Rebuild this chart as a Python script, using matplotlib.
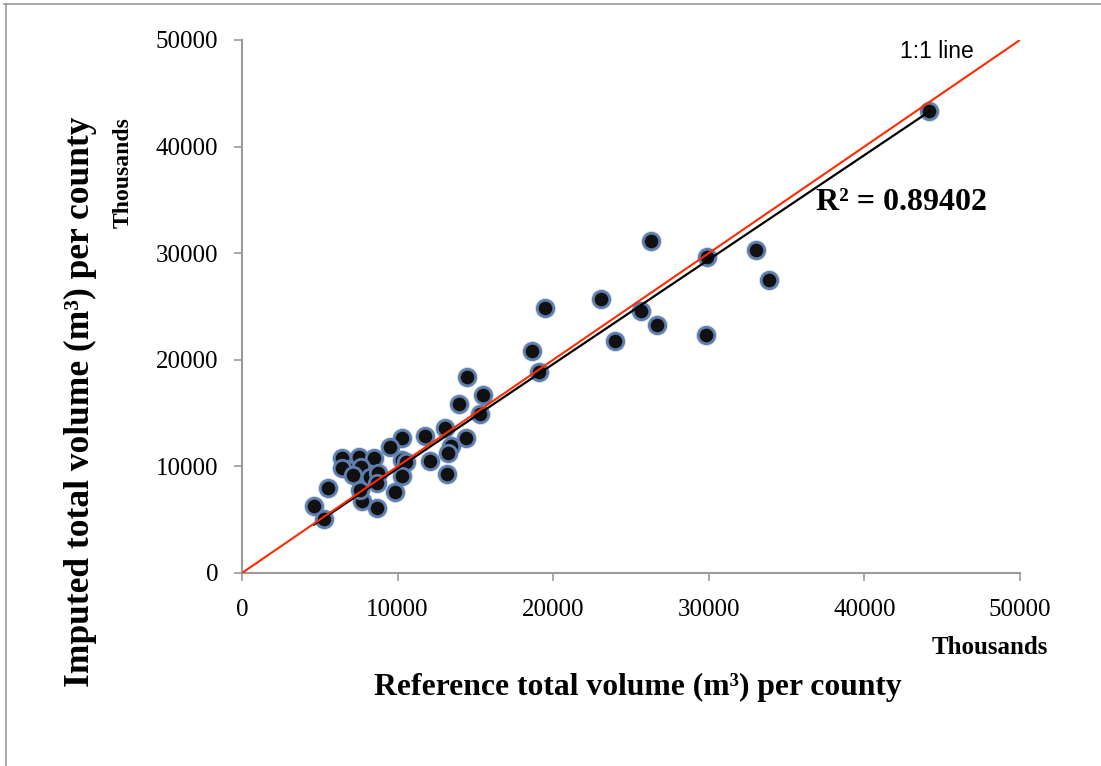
import numpy as np
import matplotlib
matplotlib.use("Agg")
import matplotlib.pyplot as plt
from matplotlib.lines import Line2D

# reference vs imputed volume per county (thousands m3)
reference = [44150, 26290, 29890, 33030, 33870, 29820, 23070, 19470, 25640, 26670,
             23970, 18640, 19090, 14460, 15490, 13950, 15300, 13050, 11760, 14400,
             13430, 13240, 13180, 12080, 10280, 9510, 10280, 10540, 10280, 9830,
             8680, 7710, 7580, 5530, 4630, 5270, 6430, 7520, 8480, 6750,
             6430, 7650, 7130, 8230, 8740, 8680]
imputed = [43340, 31150, 29640, 30300, 27490, 22330, 25700, 24860, 24580, 23270,
           21760, 20830, 18860, 18390, 16700, 15850, 14920, 13600, 12850, 12660,
           11910, 11260, 9290, 10510, 12660, 11820, 10600, 10410, 9100, 7600,
           6100, 6750, 7790, 7970, 6290, 5070, 10790, 10880, 10790, 9760,
           9850, 9940, 9190, 9010, 9380, 8440]
r2_text = "R² = 0.89402"

x = np.array(reference)
y = np.array(imputed)

fig = plt.figure(figsize=(11.01, 7.66), dpi=100)
ax = fig.add_axes([0.2198, 0.2520, 0.7066, 0.6958])

# points: light blue halo + black core
ax.scatter(x, y, s=230, color="#b7cbe6", alpha=0.55, linewidths=0, zorder=2)
ax.scatter(x, y, s=140, facecolor="#111111", edgecolor="#5f7fae", linewidths=2.0, zorder=3)

# linear trendline, intercept set to 0 (as excel)
slope = np.sum(x * y) / np.sum(x * x)
xf = np.array([x.min(), x.max()])
ax.plot(xf, slope * xf, color="black", lw=1.6, zorder=4)

# 1:1 line
ax.plot([0, 50000], [0, 50000], color="#ff2a00", lw=1.5, zorder=5)

ax.set_xlim(0, 50000)
ax.set_ylim(0, 50000)
ax.set_xticks(range(0, 50001, 10000))
ax.set_yticks(range(0, 50001, 10000))

for side in ["top", "right"]:
    ax.spines[side].set_visible(False)
for side in ["left", "bottom"]:
    ax.spines[side].set_color("#9a9a9a")
    ax.spines[side].set_linewidth(1.5)
ax.tick_params(direction="out", length=6, width=1.2, color="#9a9a9a",
               labelsize=18, pad=11)
for lab in ax.get_xticklabels() + ax.get_yticklabels():
    lab.set_fontfamily("Liberation Serif")
ax.tick_params(axis="x", pad=13)

# labels
fig.text(0.073, 0.475, "Imputed total volume (m³) per county", rotation=90,
         ha="center", va="center", fontsize=25.5, fontweight="bold",
         family="Liberation Serif")
fig.text(0.112, 0.775, "Thousands", rotation=90, ha="center", va="center",
         fontsize=17, fontweight="bold", family="Liberation Serif")
fig.text(0.579, 0.103, "Reference total volume (m³) per county",
         ha="center", va="center", fontsize=22.8, fontweight="bold",
         family="Liberation Serif")
fig.text(0.952, 0.155, "Thousands", ha="right", va="center",
         fontsize=18, fontweight="bold", family="Liberation Serif")

ax.text(36890, 34710, r2_text, ha="left", va="center", fontsize=23,
        fontweight="bold", family="Liberation Serif")
ax.text(44670, 48875, "1:1 line", ha="center", va="center", fontsize=16.5,
        family="Liberation Sans")

# outer frame (only top and left edges visible)
fig.add_artist(Line2D([0.004, 1.0], [0.995, 0.995], color="#9a9a9a", lw=1.2))
fig.add_artist(Line2D([0.005, 0.005], [0.0, 0.995], color="#9a9a9a", lw=1.2))

fig.savefig("out.png", dpi=100)
